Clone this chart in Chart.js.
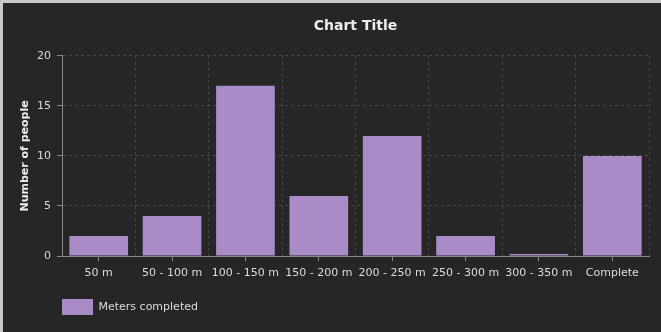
<!DOCTYPE html>
<html>
<head>
<meta charset="utf-8">
<script src="https://cdn.jsdelivr.net/npm/chart.js@4"></script>
<style>
  html, body { margin: 0; padding: 0; background: #c9c9c9; }
  #wrap { position: absolute; left: 3px; top: 3px; width: 658px; height: 329px; background: #262626; }
</style>
</head>
<body>
<div id="wrap"><canvas id="chart" width="658" height="329"></canvas></div>
<script>
const categories = ['50 m', '50 - 100 m', '100 - 150 m', '150 - 200 m', '200 - 250 m', '250 - 300 m', '300 - 350 m', 'Complete'];
const peopleCounts = [2, 4, 17, 6, 12, 2, 0, 10];
const seriesName = 'Meters completed';
const yTicks = [0, 5, 10, 15, 20];

const textColor = '#dcdcdc';
const gridColor = '#474747';
const axisColor = '#8a8a8a';
const barColor = '#a98bc7';

Chart.defaults.font.family = '"DejaVu Sans", Verdana, sans-serif';
Chart.defaults.color = textColor;

var ctx = document.getElementById('chart').getContext('2d');
var chart = new Chart(ctx, {
  type: 'bar',
  data: {
    labels: categories,
    datasets: [
      {
        label: seriesName,
        data: peopleCounts,
        backgroundColor: barColor,
        borderWidth: 0,
        barPercentage: 0.8,
        categoryPercentage: 1,
        minBarLength: 2,
      },
    ],
  },
  options: {
    responsive: false,
    animation: false,
    layout: { padding: { left: 16, right: 12, top: 4, bottom: 7 } },
    plugins: {
      title: {
        display: true,
        text: 'Chart Title',
        fullSize: false,
        color: '#eeeeee',
        font: { size: 14, weight: 'bold' },
        padding: { top: 11, bottom: 21 },
      },
      legend: {
        position: 'bottom',
        align: 'start',
        fullSize: false,
        labels: {
          boxWidth: 31,
          boxHeight: 16,
          font: { size: 11 },
          color: textColor,
          padding: 0,
        },
      },
      tooltip: { enabled: false },
    },
    scales: {
      // tick marks at category centres, labels below
      x: {
        grid: {
          offset: false,
          drawOnChartArea: false,
          tickLength: 5,
          tickColor: axisColor,
        },
        border: { color: axisColor },
        ticks: { color: textColor, font: { size: 11 }, padding: 6, maxRotation: 0, autoSkip: false },
        afterFit: (axis) => { axis.height = 43; },
      },
      // dashed grid lines between categories
      x2: {
        type: 'category',
        labels: categories,
        position: 'bottom',
        grid: {
          offset: true,
          color: gridColor,
          drawTicks: false,
        },
        border: { display: false, dash: [3, 3] },
        ticks: { display: false },
        afterFit: (axis) => { axis.height = 0; },
      },
      y: {
        min: 0,
        max: 20,
        afterBuildTicks: (axis) => { axis.ticks = yTicks.map((v) => ({ value: v })); },
        afterFit: (axis) => { axis.width = 43; },
        grid: {
          color: gridColor,
          tickLength: 5,
          tickColor: axisColor,
        },
        border: { color: axisColor, dash: [3, 3] },
        ticks: { color: textColor, font: { size: 11 }, padding: 6 },
        title: {
          display: true,
          text: 'Number of people',
          color: '#eeeeee',
          font: { size: 11, weight: 'bold' },
          padding: { top: 0, bottom: 0 },
        },
      },
    },
  },
});
</script>
</body>
</html>
